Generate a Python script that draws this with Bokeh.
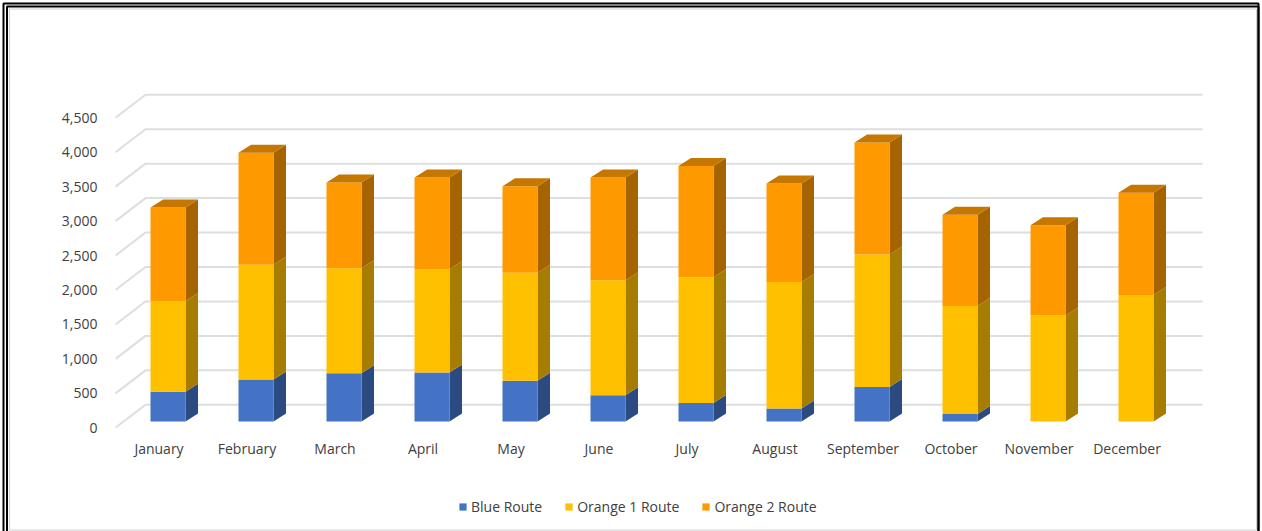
import numpy as np
from bokeh.plotting import figure
from bokeh.models import Range1d, Legend, LegendItem
from bokeh.embed import file_html
from bokeh.resources import INLINE
from bokeh.core.properties import value

# ---------------- data ----------------
months = ["January", "February", "March", "April", "May", "June",
          "July", "August", "September", "October", "November", "December"]
blue_route = [430, 610, 700, 710, 590, 380, 270, 190, 500, 110, 0, 0]
orange1_route = [1320, 1665, 1525, 1505, 1570, 1670, 1825, 1835, 1925, 1565, 1540, 1835]
orange2_route = [1355, 1625, 1245, 1325, 1255, 1490, 1615, 1430, 1625, 1325, 1310, 1485]
series_names = ["Blue Route", "Orange 1 Route", "Orange 2 Route"]
y_ticks = [0, 500, 1000, 1500, 2000, 2500, 3000, 3500, 4000, 4500]
y_tick_labels = ["0", "500", "1,000", "1,500", "2,000", "2,500", "3,000", "3,500", "4,000", "4,500"]

# ---------------- styles ----------------
front_colors = ["#4472C4", "#FFC000", "#FF9900"]
side_colors = ["#2C4A82", "#A67D00", "#A66400"]
top_color = "#C67700"
grid_color = "#DEDEDE"
text_color = "#404040"
FONT = "Open Sans"

# ---------------- layout (pixels) ----------------
W, H = 1262, 531
ZERO_PX = 427.3               # pixel row of value 0 on the front plane
PX_PER_UNIT = 34.45 / 500.0   # vertical pixels per data unit
SLOT = 88.0                   # pixels between months
FIRST = 167.5                 # pixel column of first bar's front-face centre
HALF = 17.5                   # half width of bar front face
SIDE_DX, SIDE_DY = 12.5, 8.0  # bar depth projection
BAR_DX, BAR_DY = 9.0, 6.3     # bar front plane offset from chart front plane
BACK_DX, BACK_DY = 30.0, 23.0 # back wall offset from chart front plane
GRID_FRONT_X, GRID_END_X = 115.0, 1202.0
MONTH_LABEL_PX = 448.0

UY = 1.0 / PX_PER_UNIT        # data units per pixel (vertical)


def xi(px):
    return (px - FIRST) / SLOT


p = figure(width=W, height=H, output_backend="svg", toolbar_location=None,
           x_axis_type=None, y_axis_type=None, min_border=0,
           x_range=Range1d(xi(0), xi(W)),
           y_range=Range1d(-(H - ZERO_PX) * UY, ZERO_PX * UY))
p.outline_line_color = None
p.background_fill_color = "white"
p.border_fill_color = "white"
p.extra_x_ranges = {"px": Range1d(0, W)}
p.extra_y_ranges = {"px": Range1d(H, 0)}

# outer frame lines
p.quad(left=[3], right=[1258], top=[3], bottom=[H + 5], fill_color=None,
       line_color="black", line_width=2, x_range_name="px", y_range_name="px")
p.quad(left=[6.5], right=[1258], top=[6], bottom=[H + 5], fill_color=None,
       line_color="black", line_width=2, x_range_name="px", y_range_name="px")
p.quad(left=[9], right=[1256], top=[8.5], bottom=[529.5], fill_color=None,
       line_color="#D0D0D0", line_width=1, x_range_name="px", y_range_name="px")

# back-wall gridlines + floor diagonals
back_dx = BACK_DX / SLOT
back_dy = BACK_DY * UY
gx0 = xi(GRID_FRONT_X)
gx1 = xi(GRID_END_X)
p.multi_line(xs=[[gx0, gx0 + back_dx, gx1] for _ in y_ticks],
             ys=[[t, t + back_dy, t + back_dy] for t in y_ticks],
             line_color=grid_color, line_width=2)

# y tick labels (front plane)
p.text(x=[xi(97)] * len(y_ticks), y=y_ticks, text=y_tick_labels,
       text_align="right", text_baseline="middle",
       text_font=value(FONT), text_font_size="14px", text_color=text_color)

# month labels
idx = np.arange(len(months), dtype=float)
p.text(x=idx - BAR_DX / SLOT, y=[-(MONTH_LABEL_PX - ZERO_PX) * UY] * len(months), text=months,
       text_align="center", text_baseline="middle",
       text_font=value(FONT), text_font_size="14px", text_color=text_color)

# stacked 3D bars
series = [np.array(blue_route, float), np.array(orange1_route, float), np.array(orange2_route, float)]
bar_dy = BAR_DY * UY
half = HALF / SLOT
sdx = SIDE_DX / SLOT
sdy = SIDE_DY * UY
left = idx - half
right = idx + half

bottom = np.zeros(len(months))
front_renderers = []
for k, vals in enumerate(series):
    top = bottom + vals
    b = bottom + bar_dy
    t = top + bar_dy
    # side faces
    xs = [[r, r + sdx, r + sdx, r] for r in right]
    ys = [[bb, bb + sdy, tt + sdy, tt] for bb, tt in zip(b, t)]
    p.patches(xs=xs, ys=ys, fill_color=side_colors[k], line_color=None)
    # front faces
    fr = p.quad(left=left, right=right, bottom=b, top=t,
                fill_color=front_colors[k], line_color=None)
    front_renderers.append(fr)
    bottom = top

# top faces of stacks
t = bottom + bar_dy
p.patches(xs=[[l, l + sdx, r + sdx, r] for l, r in zip(left, right)],
          ys=[[tt, tt + sdy, tt + sdy, tt] for tt in t],
          fill_color=top_color, line_color=None)

legend = Legend(items=[LegendItem(label=n, renderers=[r]) for n, r in zip(series_names, front_renderers)],
                orientation="horizontal", location=(458, 15), padding=0, margin=0,
                spacing=22, glyph_width=9, glyph_height=9, label_standoff=4,
                border_line_color=None, background_fill_alpha=0,
                label_text_font=FONT, label_text_font_size="14px",
                label_text_color=text_color)
p.add_layout(legend)

open("out.html", "w").write(file_html(p, INLINE))
